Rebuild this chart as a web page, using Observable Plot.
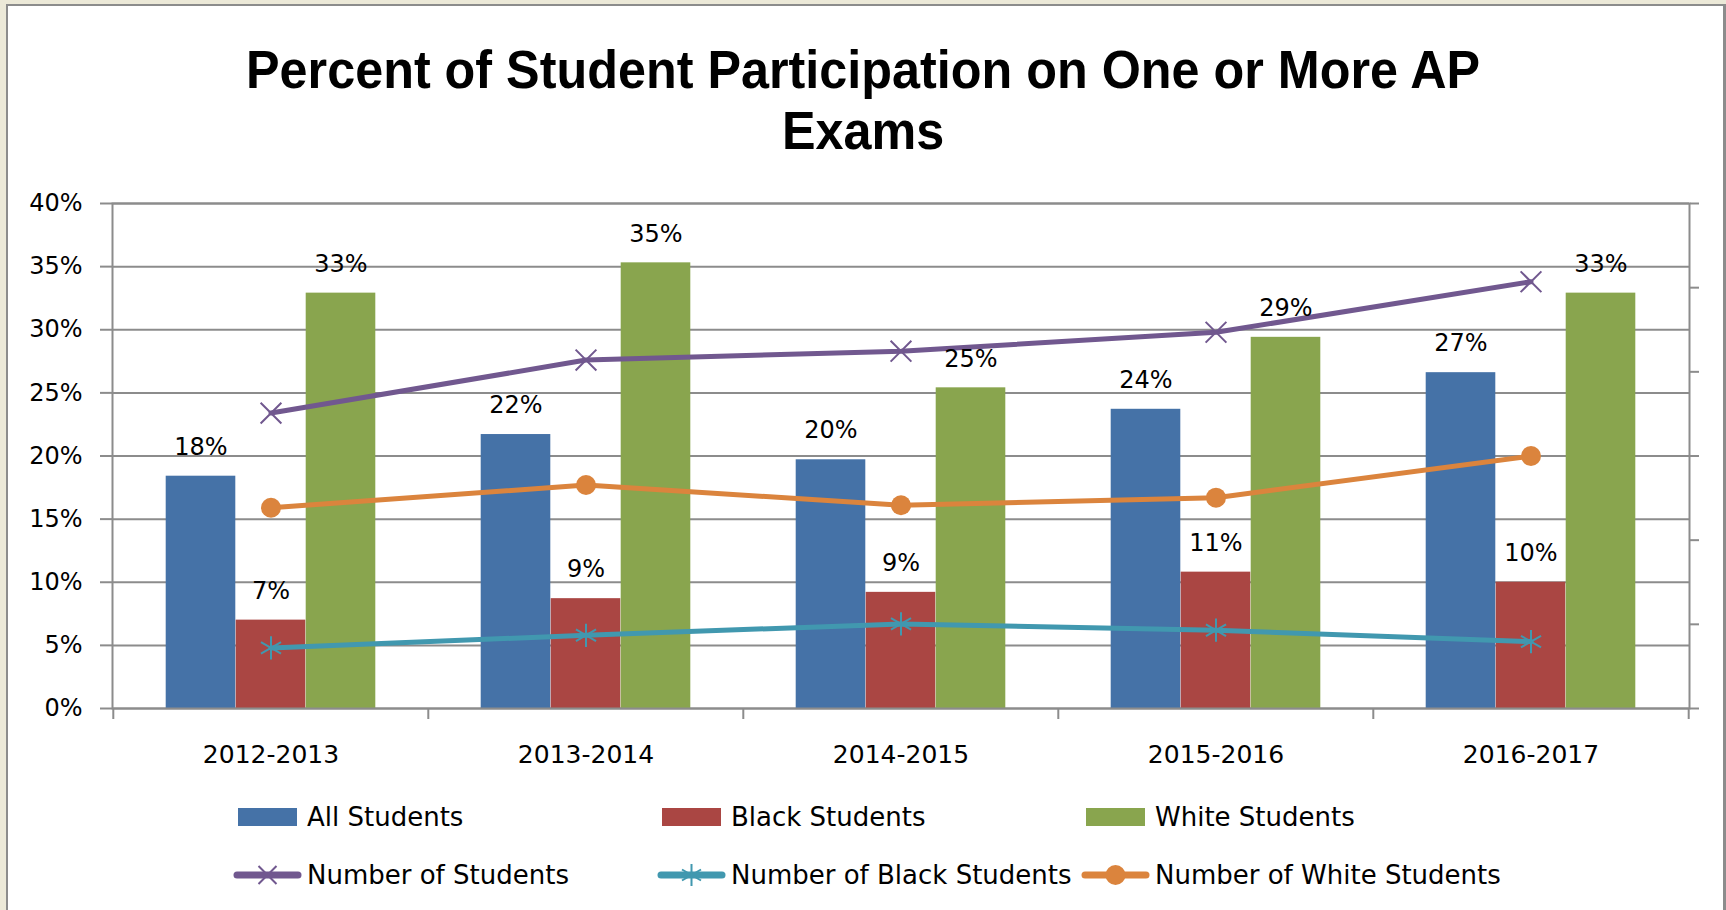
<!DOCTYPE html>
<html>
<head>
<meta charset="utf-8">
<script src="https://cdn.jsdelivr.net/npm/d3@7"></script>
<script src="https://cdn.jsdelivr.net/npm/@observablehq/plot@0.6"></script>
<style>
  html, body { margin: 0; padding: 0; background: #ECE9D8; width: 1726px; height: 910px; overflow: hidden; }
  #frame { position: absolute; left: 6px; top: 4px; width: 1715px; height: 920px; background: #fff;
           border-left: 2px solid #8c8c8c; border-top: 2px solid #8c8c8c; border-right: 3px solid #8c8c8c; }
  #title { position: absolute; left: 0; top: 39px; width: 1726px; text-align: center;
           font-family: "Liberation Sans", Arial, sans-serif; font-weight: 700; font-size: 54px; color: #000; }
  #title div { height: 61px; line-height: 61px; }
  #title span { display: inline-block; white-space: nowrap; transform-origin: 50% 50%; line-height: 61px; }
  #chart { position: absolute; left: 0; top: 170px; }
  #legend { position: absolute; left: 233px; top: 788px; display: grid; grid-template-columns: 424px 424px 424px;
            grid-auto-rows: 58px; font-family: "DejaVu Sans", sans-serif; font-size: 26px; color: #000; }
  .item { display: flex; align-items: center; white-space: nowrap; }
  .item svg { flex: none; margin-right: 5px; }
</style>
</head>
<body>
<div id="frame"></div>
<div id="title"><div><span>Percent of Student Participation on One or More AP</span></div><div><span>Exams</span></div></div>
<div id="chart"></div>
<div id="legend"></div>
<script>
// ---- data ----
const years = ["2012-2013", "2013-2014", "2014-2015", "2015-2016", "2016-2017"];
const barSeries = ["All Students", "Black Students", "White Students"];
const allStudents   = [0.184, 0.217, 0.197, 0.237, 0.266];
const blackStudents = [0.070, 0.087, 0.092, 0.108, 0.100];
const whiteStudents = [0.329, 0.353, 0.254, 0.294, 0.329];
// line series sit on an unlabeled secondary axis; values expressed in the primary axis position
const lineSeries = ["Number of Students", "Number of Black Students", "Number of White Students"];
const numStudents = [0.234, 0.276, 0.283, 0.298, 0.338];
const numBlack    = [0.048, 0.058, 0.067, 0.062, 0.053];
const numWhite    = [0.159, 0.177, 0.161, 0.167, 0.200];
const yTicks = [0, 0.05, 0.10, 0.15, 0.20, 0.25, 0.30, 0.35, 0.40];
const secondaryTicks = [0, 1, 2, 3, 4, 5, 6];

const barColors = ["#4572A7", "#AA4643", "#89A54E"];
const lineColors = ["#71588F", "#4198AF", "#DB843D"];
const lineSymbols = ["times", "asterisk", "circle"];
const gray = "#8c8c8c";

const barValues = [allStudents, blackStudents, whiteStudents];
const lineValues = [numStudents, numBlack, numWhite];

const W = 1726, H = 608, mL = 112, mR = 37, mT = 33, mB = 70;
const band = (W - mL - mR) / years.length;
const barW = 70;
const fmt = d3.format(".0%");

const marks = [Plot.gridY(yTicks, {stroke: gray, strokeOpacity: 1, strokeWidth: 2})];

barValues.forEach((vals, k) => {
  const rows = years.map((year, i) => ({year, value: vals[i], series: barSeries[k]}));
  const off = (k - 1) * barW;
  marks.push(Plot.barY(rows, {
    x: "year", y: "value", fill: barColors[k],
    insetLeft: band / 2 - barW / 2 + off, insetRight: band / 2 - barW / 2 - off
  }));
});

marks.push(Plot.frame({stroke: gray, strokeWidth: 2}));
marks.push(Plot.axisY({anchor: "left", ticks: yTicks, tickFormat: fmt, tickSize: 12, tickPadding: 18,
  stroke: gray, strokeWidth: 2, fill: "black", fontSize: 24}));
marks.push(Plot.axisY({anchor: "right", ticks: secondaryTicks.map(t => 0.4 * t / 6), tickFormat: () => "",
  tickSize: 9, stroke: gray, strokeWidth: 2}));
marks.push(Plot.axisX({anchor: "bottom", ticks: years, tickSize: 11, tickFormat: () => "", dx: -band / 2,
  stroke: gray, strokeWidth: 2}));
marks.push(Plot.axisX({anchor: "bottom", ticks: [years[years.length - 1]], tickSize: 11, tickFormat: () => "", dx: band / 2,
  stroke: gray, strokeWidth: 2}));
marks.push(Plot.axisX({anchor: "bottom", ticks: years, tickSize: 0, tickPadding: 37, fill: "black", fontSize: 25}));

lineValues.forEach((vals, k) => {
  const rows = years.map((year, i) => ({year, value: vals[i], series: lineSeries[k]}));
  marks.push(Plot.line(rows, {x: "year", y: "value", stroke: lineColors[k], strokeWidth: 5}));
  if (lineSymbols[k] === "circle") {
    marks.push(Plot.dot(rows, {x: "year", y: "value", r: 10, fill: lineColors[k], stroke: "none"}));
  } else {
    marks.push(Plot.dot(rows, {x: "year", y: "value", symbol: lineSymbols[k], r: lineSymbols[k] === "times" ? 9.5 : 11,
      stroke: lineColors[k], strokeWidth: 2}));
  }
});

barValues.forEach((vals, k) => {
  const rows = years.map((year, i) => ({year, value: vals[i]}));
  marks.push(Plot.text(rows, {x: "year", y: "value", text: d => fmt(d.value), dx: (k - 1) * barW, dy: -29,
    fontSize: 24, fill: "black"}));
});

const chart = Plot.plot({
  width: W, height: H, marginLeft: mL, marginRight: mR, marginTop: mT, marginBottom: mB,
  style: {fontFamily: "DejaVu Sans, sans-serif", fontSize: "24px", color: "black", background: "transparent", overflow: "visible"},
  x: {type: "band", domain: years, padding: 0, label: null},
  y: {domain: [0, 0.4], label: null},
  marks
});
document.getElementById("chart").appendChild(chart);

// ---- legend ----
const legend = document.getElementById("legend");
function addItem(label, svgInner) {
  const div = document.createElement("div");
  div.className = "item";
  div.innerHTML = `<svg width="69" height="30" viewBox="0 0 69 30">${svgInner}</svg><span>${label}</span>`;
  legend.appendChild(div);
}
barSeries.forEach((s, k) => addItem(s, `<rect x="5" y="6" width="59" height="18" fill="${barColors[k]}"/>`));
lineSeries.forEach((s, k) => {
  let m = "";
  const c = lineColors[k];
  if (lineSymbols[k] === "times") m = `<path d="M25.5,6L43.5,24M43.5,6L25.5,24" stroke="${c}" stroke-width="2"/>`;
  else if (lineSymbols[k] === "asterisk") m = `<path d="M34.5,4V26M25,9.5L44,20.5M44,9.5L25,20.5" stroke="${c}" stroke-width="2"/>`;
  else m = `<circle cx="34.5" cy="15" r="10" fill="${c}"/>`;
  addItem(s, `<line x1="4" y1="15" x2="65" y2="15" stroke="${c}" stroke-width="7" stroke-linecap="round"/>${m}`);
});

// fit title width to the reference (offsetWidth ignores transforms)
function fitTitle() {
  const spans = document.querySelectorAll("#title span");
  const w = spans[0].offsetWidth;
  const s = 1234 / w;
  spans.forEach(sp => sp.style.transform = `scaleX(${s})`);
}
fitTitle();
if (document.fonts && document.fonts.ready) document.fonts.ready.then(fitTitle);
</script>
</body>
</html>
